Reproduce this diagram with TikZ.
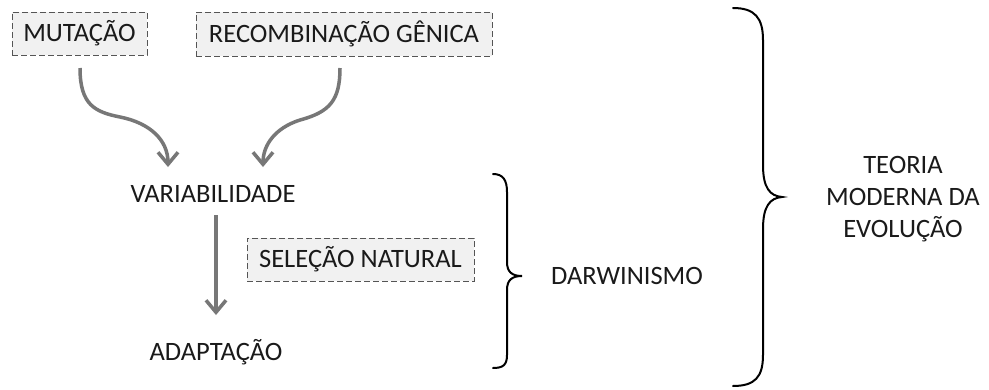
\documentclass[tikz,border=0pt]{standalone}
\usepackage{fontspec}
\setmainfont{Carlito}
\usetikzlibrary{arrows.meta}
\definecolor{boxfill}{HTML}{F1F1F1}
\definecolor{boxline}{HTML}{555555}
\definecolor{arr}{HTML}{777777}
\definecolor{ink}{HTML}{1A1A1A}
\begin{document}
\begin{tikzpicture}[x=1pt,y=-1pt,
  every node/.style={font=\fontsize{26.5}{32}\selectfont, text=ink, inner sep=0pt},
  dbox/.style={draw=boxline, fill=boxfill, dashed, dash pattern=on 6pt off 3pt, line width=1pt, anchor=center},
  flow/.style={draw=arr, line width=3.5pt, -{Straight Barb[length=12pt,width=20pt,line width=3.5pt]}},
  brace/.style={draw=black, line width=2pt, line cap=round}]
\useasboundingbox (0,0) rectangle (989,389);
\fill[white] (0,0) rectangle (989,389);
\node[dbox, minimum width=135pt, minimum height=43pt] (mut) at (79.5,33.5) {MUTAÇÃO};
\node[dbox, minimum width=296pt, minimum height=44pt] (rec) at (344,34) {RECOMBINAÇÃO GÊNICA};
\node (var) at (213,194) {VARIABILIDADE};
\node[dbox, minimum width=227pt, minimum height=43pt] (sel) at (360.5,259.5) {SELEÇÃO NATURAL};
\node (ada) at (216,352) {ADAPTAÇÃO};
\node (dar) at (627,276) {DARWINISMO};
\node[align=center] (teo) at (903,199) {TEORIA\\MODERNA DA\\EVOLUÇÃO};
\coordinate (m0) at (80,68);
\coordinate (r0) at (340,68);
\coordinate (v0) at (216,215);
\coordinate (v1) at (216,315);
\coordinate (t1) at (168,167);
\coordinate (t2) at (263,167);
\path[flow] (m0) .. controls (80,105) and (95,112) .. (120,117) .. controls (150,123) and (168,140) .. (t1);
\path[flow] (r0) .. controls (340,100) and (330,112) .. (300,120) .. controls (275,128) and (263,145) .. (t2);
\path[flow] (v0) -- (v1);
% small brace
\path[brace] (493,174) .. controls (503,174) and (507,180) .. (507,192) -- (507,262) .. controls (507,272) and (512,276) .. (522,276) .. controls (512,276) and (507,280) .. (507,290) -- (507,355) .. controls (507,365) and (503,368) .. (493,368);
% big brace
\path[brace] (733,8) .. controls (755,8) and (763,18) .. (763,40) -- (763,165) .. controls (763,188) and (770,196) .. (782,197) .. controls (770,198) and (763,206) .. (763,229) -- (763,355) .. controls (763,377) and (755,386) .. (733,386);
\end{tikzpicture}
\end{document}
